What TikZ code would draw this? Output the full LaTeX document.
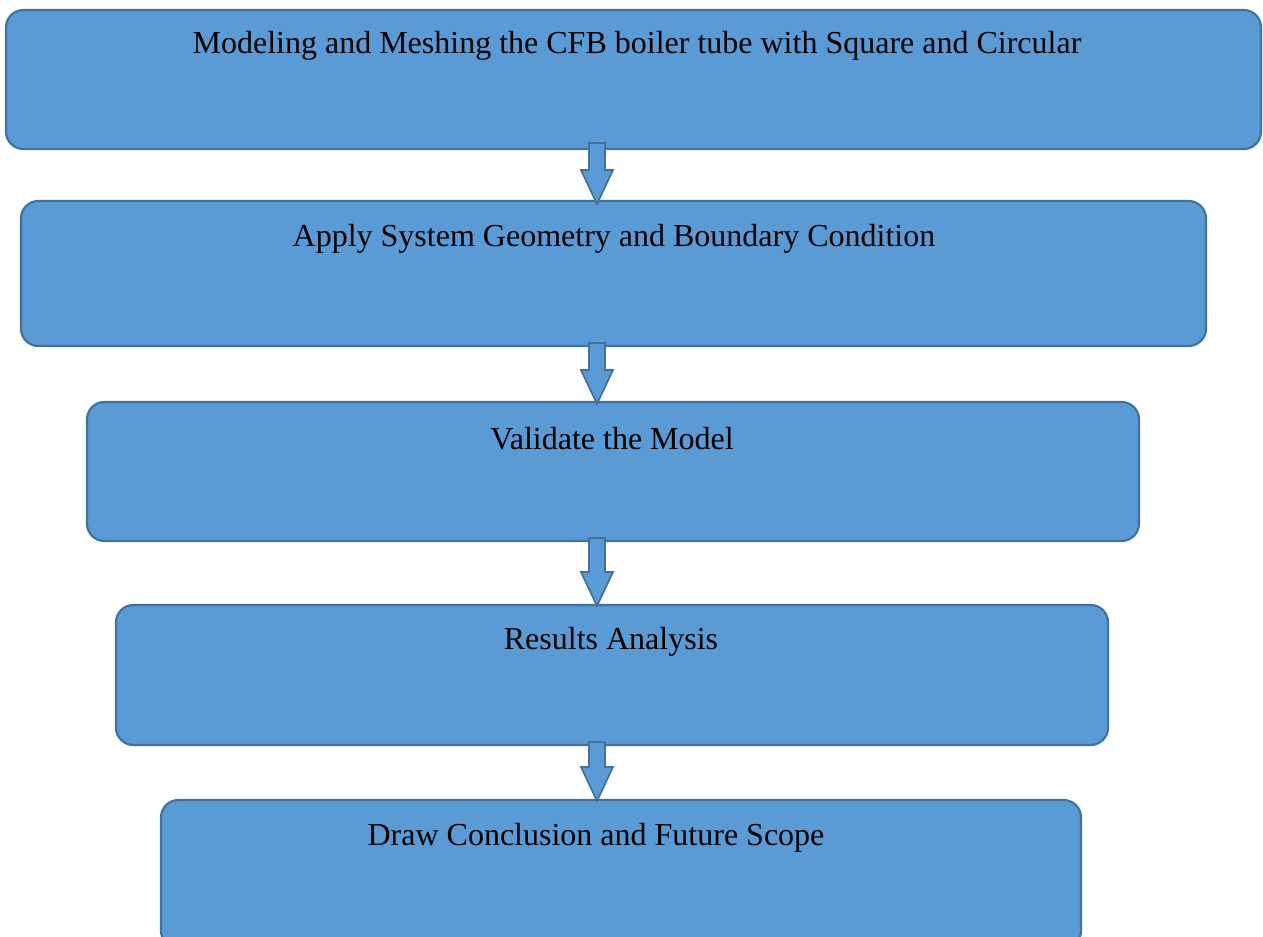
\documentclass[tikz,border=0pt]{standalone}
\usepackage{fontspec}
\setmainfont{Liberation Serif}
\definecolor{boxfill}{HTML}{5B9BD5}
\definecolor{boxline}{HTML}{41719C}
\tikzset{
  flowbox/.style={draw=boxline, fill=boxfill, line width=1.6pt, rounded corners=13pt, rectangle, inner sep=0pt},
  flowtext/.style={font=\fontsize{24}{28}\selectfont, text=black, inner sep=0pt},
  blockarrow/.style={draw=boxline, fill=boxfill, line width=1.3pt, line join=miter}
}
\newcommand{\downarrowshape}[3]{% x, top y, tip y
  \draw[blockarrow] (#1-8,#2) -- (#1+8,#2) -- (#1+8,#3-34) -- (#1+16,#3-34) -- (#1,#3) -- (#1-16,#3-34) -- (#1-8,#3-34) -- cycle;
}
\begin{document}
\begin{tikzpicture}[x=0.75pt,y=-0.75pt]
\useasboundingbox (0,0) rectangle (1263,937);
\clip (0,0) rectangle (1263,937);
\fill[white] (0,0) rectangle (1263,937);
% boxes
\draw[flowbox] (6,10) rectangle (1261,149);
\draw[flowbox] (21,201) rectangle (1206,346);
\draw[flowbox] (87,402) rectangle (1139,541);
\draw[flowbox] (116,605) rectangle (1108,745);
\draw[flowbox] (161,800) rectangle (1081,948);
% arrows
\downarrowshape{597}{143}{204}
\downarrowshape{597}{343}{404}
\downarrowshape{597}{538}{606}
\downarrowshape{597}{742}{801}
% texts
\node[flowtext] (t1) at (637,46) {Modeling and Meshing the CFB boiler tube with Square and Circular};
\node[flowtext] (t2) at (614,239) {Apply System Geometry and Boundary Condition};
\node[flowtext] (t3) at (612,439) {Validate the Model};
\node[flowtext] (t4) at (611,642) {Results Analysis};
\node[flowtext] (t5) at (596,838) {Draw Conclusion and Future Scope};
\end{tikzpicture}
\end{document}
